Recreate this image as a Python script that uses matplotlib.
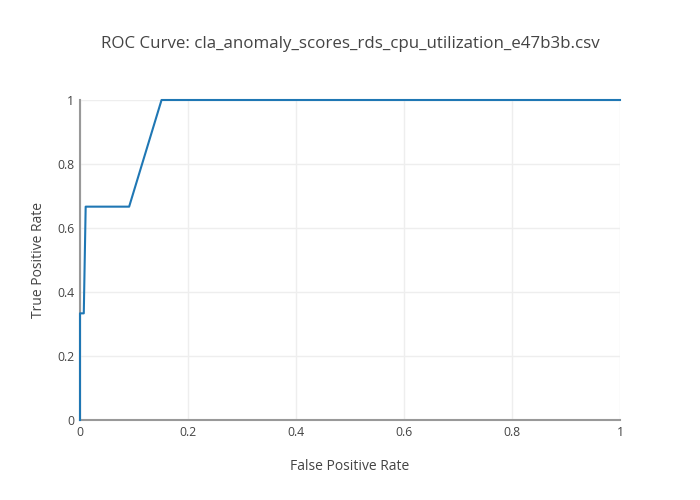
import matplotlib
matplotlib.use('Agg')
import matplotlib.pyplot as plt

# ROC points
fpr = [0.0, 0.0, 0.007, 0.0105, 0.091, 0.151, 1.0]
tpr = [0.0, 0.3333, 0.3333, 0.6667, 0.6667, 1.0, 1.0]
ticks = [0, 0.2, 0.4, 0.6, 0.8, 1]
tick_labels = ['0', '0.2', '0.4', '0.6', '0.8', '1']

plt.rcParams['font.family'] = ['Open Sans', 'DejaVu Sans']

fig = plt.figure(figsize=(7, 5), dpi=100)
ax = fig.add_axes([80 / 700, 80 / 500, 540 / 700, 320 / 500])

ax.plot(fpr, tpr, color='#1f77b4', linewidth=1.5, clip_on=False, zorder=3)

ax.set_xlim(0, 1)
ax.set_ylim(0, 1)
ax.set_xticks(ticks)
ax.set_xticklabels(tick_labels)
ax.set_yticks(ticks)
ax.set_yticklabels(tick_labels)
ax.tick_params(length=0, labelsize=8.8, colors='#444444', pad=4)
ax.grid(True, color='#eeeeee', linewidth=1)
ax.set_axisbelow(True)

for side in ['top', 'right']:
    ax.spines[side].set_visible(False)
for side in ['left', 'bottom']:
    ax.spines[side].set_color('#999999')
    ax.spines[side].set_linewidth(1.5)

ax.set_xlabel('False Positive Rate', fontsize=10, color='#444444', labelpad=15)
ax.set_ylabel('True Positive Rate', fontsize=10, color='#444444', labelpad=8)
fig.text(350 / 700, 1 - 44 / 500, 'ROC Curve: cla_anomaly_scores_rds_cpu_utilization_e47b3b.csv',
         ha='center', va='center', fontsize=12.2, color='#444444')

fig.savefig('out.png', dpi=100)
